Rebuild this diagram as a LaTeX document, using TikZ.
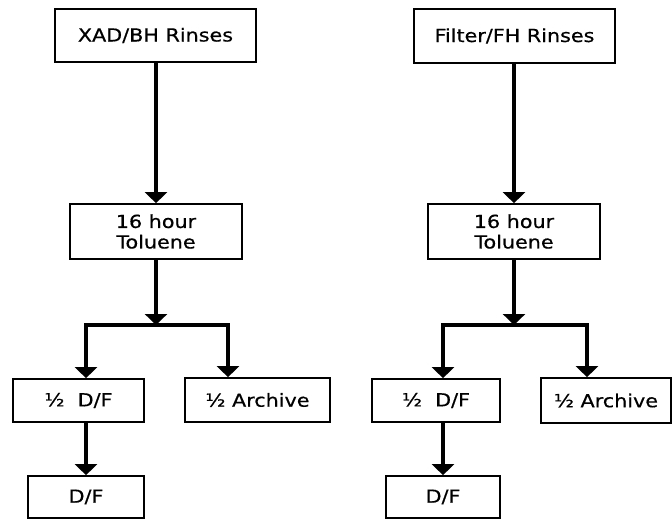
\documentclass[tikz,border=0pt]{standalone}
\usepackage{fontspec}
\setmainfont{DejaVu Sans}[FakeStretch=1.15,FakeBold=0.6]
\usetikzlibrary{arrows.meta}
\begin{document}
\begin{tikzpicture}[x=1pt,y=-1pt,
  box/.style={draw=black,line width=1.7pt,inner sep=0pt,align=center,
    font=\fontsize{18}{20.5}\selectfont},
  flow/.style={line width=3.2pt,-{Triangle[width=22pt,length=11pt]}}]
\useasboundingbox (0,0) rectangle (672,519);

% left chain
\node[box,minimum width=201pt,minimum height=53pt] (srcL) at (155.5,35.5) {XAD/BH Rinses};
\node[box,minimum width=172pt,minimum height=55pt] (tolL) at (156,231.5) {16 hour\\Toluene};
\node[box,minimum width=131pt,minimum height=43pt] (halfL) at (78.5,400.5) {½\ \ D/F};
\node[box,minimum width=145pt,minimum height=44pt] (arcL) at (257.5,400) {½ Archive};
\node[box,minimum width=116pt,minimum height=42pt] (dfL) at (86,497) {D/F};
\coordinate (jL) at (156,325);
\coordinate (aL) at (86,325);
\coordinate (bL) at (228,325);

\draw[flow] (srcL.south -| tolL.north) -- (tolL.north);
\draw[flow] (tolL.south) -- (jL);
\draw[flow] (jL) -| (aL |- halfL.north);
\draw[flow] (jL) -| (bL |- arcL.north);
\draw[flow] (halfL.south -| dfL.north) -- (dfL.north);

% right chain
\node[box,minimum width=201pt,minimum height=54pt] (srcR) at (514.5,36) {Filter/FH Rinses};
\node[box,minimum width=172pt,minimum height=55pt] (tolR) at (514,231.5) {16 hour\\Toluene};
\node[box,minimum width=128pt,minimum height=43pt] (halfR) at (436,400.5) {½\ \ D/F};
\node[box,minimum width=130pt,minimum height=45pt] (arcR) at (606,400.5) {½ Archive};
\node[box,minimum width=114pt,minimum height=42pt] (dfR) at (443,497) {D/F};
\coordinate (jR) at (514,325);
\coordinate (aR) at (443,325);
\coordinate (bR) at (587,325);

\draw[flow] (srcR.south -| tolR.north) -- (tolR.north);
\draw[flow] (tolR.south) -- (jR);
\draw[flow] (jR) -| (aR |- halfR.north);
\draw[flow] (jR) -| (bR |- arcR.north);
\draw[flow] (halfR.south -| dfR.north) -- (dfR.north);
\end{tikzpicture}
\end{document}
